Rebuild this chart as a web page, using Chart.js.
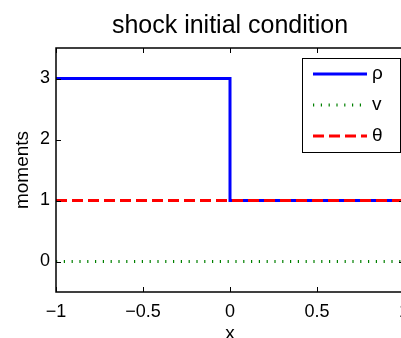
<!DOCTYPE html>
<html>
<head>
<meta charset="utf-8">
<script src="https://cdn.jsdelivr.net/npm/chart.js@4"></script>
<style>
  body { margin: 0; background: #fff; }
  #wrap { width: 401px; height: 338px; overflow: hidden; }
</style>
</head>
<body>
<div id="wrap"><canvas id="chart" width="460" height="338"></canvas></div>
<script>
const xs = [-1, 0, 0, 1];
const rho = [3, 3, 1, 1];
const vel = [0, 0, 0, 0];
const theta = [1, 1, 1, 1];
const xTicks = [-1, -0.5, 0, 0.5, 1];
const yTicks = [0, 1, 2, 3];
const names = ['ρ', 'v', 'θ'];
const titleText = 'shock initial condition';

const FONT = '"Liberation Sans", Arial, sans-serif';
const pts = ys => xs.map((x, i) => ({ x: x, y: ys[i] }));

// title over the axes box, box, inward ticks and the legend, matlab style
const frame = {
  id: 'frame',
  afterDatasetsDraw(chart) {
    const ctx = chart.ctx;
    const a = chart.chartArea;
    const sx = chart.scales.x, sy = chart.scales.y;
    ctx.save();
    ctx.fillStyle = '#000';
    ctx.font = '25px ' + FONT;
    ctx.textAlign = 'center';
    ctx.textBaseline = 'alphabetic';
    ctx.fillText(titleText, (a.left + a.right) / 2, 33);
    ctx.textAlign = 'left';

    ctx.strokeStyle = '#000';
    ctx.lineWidth = 1.5;
    ctx.setLineDash([]);
    ctx.strokeRect(a.left, a.top, a.right - a.left, a.bottom - a.top);
    ctx.lineWidth = 1;
    ctx.beginPath();
    xTicks.forEach(v => {
      const p = Math.round(sx.getPixelForValue(v)) + 0.5;
      ctx.moveTo(p, a.bottom); ctx.lineTo(p, a.bottom - 5);
      ctx.moveTo(p, a.top); ctx.lineTo(p, a.top + 5);
    });
    yTicks.forEach(v => {
      const p = Math.round(sy.getPixelForValue(v)) + 0.5;
      ctx.moveTo(a.left, p); ctx.lineTo(a.left + 5, p);
      ctx.moveTo(a.right, p); ctx.lineTo(a.right - 5, p);
    });
    ctx.stroke();

    // legend
    const lx = 302, ly = 58, lw = 98, lh = 94;
    ctx.fillStyle = '#fff';
    ctx.fillRect(lx, ly, lw, lh);
    ctx.strokeRect(lx + 0.5, ly + 0.5, lw, lh);
    ctx.font = '19px ' + FONT;
    ctx.textBaseline = 'middle';
    chart.data.datasets.forEach((ds, i) => {
      const y = ly + 16 + i * 31;
      ctx.strokeStyle = ds.borderColor;
      ctx.lineWidth = ds.borderWidth;
      ctx.setLineDash(ds.borderDash || []);
      ctx.beginPath();
      ctx.moveTo(lx + 11, y);
      ctx.lineTo(lx + 65, y);
      ctx.stroke();
      ctx.fillStyle = '#000';
      ctx.fillText(ds.label, lx + 70, y);
    });
    ctx.restore();
  }
};

new Chart(document.getElementById('chart'), {
  type: 'line',
  data: {
    datasets: [
      { label: names[0], data: pts(rho), borderColor: '#0000ff', borderWidth: 3, order: 3 },
      { label: names[1], data: pts(vel), borderColor: '#008000', borderWidth: 3, borderDash: [1.2, 6.6], borderCapStyle: 'butt', order: 2 },
      { label: names[2], data: pts(theta), borderColor: '#ff0000', borderWidth: 3, borderDash: [11, 5], order: 1 }
    ]
  },
  options: {
    responsive: false,
    animation: false,
    layout: { padding: { left: 0, right: 56, top: 48, bottom: 0 } },
    elements: { point: { radius: 0 }, line: { tension: 0 } },
    plugins: {
      legend: { display: false },
      tooltip: { enabled: false },
      title: { display: false }
    },
    scales: {
      x: {
        type: 'linear',
        min: -1, max: 1,
        afterBuildTicks: s => { s.ticks = xTicks.map(v => ({ value: v })); },
        afterFit: s => { s.height = 46; },
        grid: { display: false, drawTicks: false },
        border: { display: false },
        ticks: {
          color: '#000', padding: 9,
          font: { family: FONT, size: 18 },
          callback: v => String(v).replace('-', '\u2212')
        },
        title: {
          display: true, text: 'x', color: '#000',
          font: { family: FONT, size: 19 },
          padding: { top: 0, bottom: -7.5 }
        }
      },
      y: {
        min: -0.5, max: 3.5,
        afterBuildTicks: s => { s.ticks = yTicks.map(v => ({ value: v })); },
        afterFit: s => { s.width = 56; },
        grid: { display: false, drawTicks: false },
        border: { display: false },
        ticks: {
          color: '#000', padding: 6,
          font: { family: FONT, size: 18 }
        },
        title: {
          display: true, text: 'moments', color: '#000',
          font: { family: FONT, size: 19 },
          padding: { top: 11, bottom: 0 }
        }
      }
    }
  },
  plugins: [frame]
});
</script>
</body>
</html>
